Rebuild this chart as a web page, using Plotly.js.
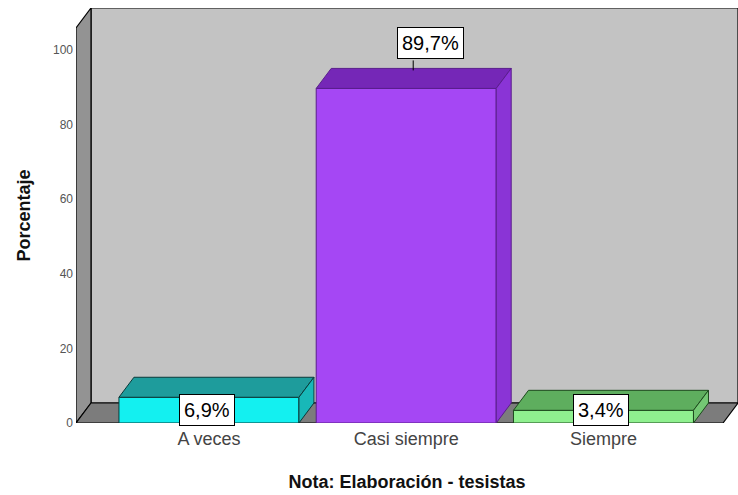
<!DOCTYPE html>
<html>
<head>
<meta charset="utf-8">
<script src="https://cdn.plot.ly/plotly-3.0.1.min.js"></script>
<style>html,body{margin:0;padding:0;background:#fff;}#chart{width:738px;height:495px;}</style>
</head>
<body>
<div id="chart"></div>
<script>
// ---- data ----
const categories = ["A veces", "Casi siempre", "Siempre"];
const percentages = [6.9, 89.7, 3.4];
const barLabels = ["6,9%", "89,7%", "3,4%"];
const yTickVals = [0, 20, 40, 60, 80, 100];
const yTickText = ["0", "20", "40", "60", "80", "100"];

// ---- styles ----
const frontColors = ["#13f0f0", "#a547f4", "#8ff08f"];
const topColors = ["#1e9c9c", "#7527b7", "#5eae5e"];
const sideColors = ["#18b8b8", "#8a34d6", "#74c874"];
const edgeColors = ["#0a3a3a", "#5a1e8c", "#1d4a1d"];

const xRange = [-0.674, 2.682];
const yRange = [0, 111.26];
const plotW = 662, plotH = 415;
const pxX = plotW / (xRange[1] - xRange[0]);
const pxY = plotH / (yRange[1] - yRange[0]);
const DX = 15 / pxX;   // depth offset in x units
const DY = 20 / pxY;   // depth offset in y units
const barW = 180 / pxX;

const xIdx = categories.map((c, i) => i);

const shapes = [];
const L = xRange[0], R = xRange[1], T = yRange[1];
// back wall
shapes.push({type: 'path', layer: 'below', xref: 'x', yref: 'y',
  path: `M${L + DX},${DY} L${R},${DY} L${R},${T} L${L + DX},${T} Z`,
  fillcolor: '#c3c3c3', line: {color: '#000', width: 1.2}});
// left wall
shapes.push({type: 'path', layer: 'below', xref: 'x', yref: 'y',
  path: `M${L},0 L${L + DX},${DY} L${L + DX},${T} L${L},${T - DY} Z`,
  fillcolor: '#939393', line: {color: '#000', width: 1.2}});
// floor
shapes.push({type: 'path', layer: 'below', xref: 'x', yref: 'y',
  path: `M${L},0 L${L + DX},${DY} L${R},${DY} L${R - DX},0 Z`,
  fillcolor: '#7c7c7c', line: {color: '#000', width: 1.2}});

// bar tops and sides
xIdx.forEach((xi, i) => {
  const v = percentages[i];
  const x0 = xi - barW / 2, x1 = xi + barW / 2;
  shapes.push({type: 'path', layer: 'above', xref: 'x', yref: 'y',
    path: `M${x0},${v} L${x0 + DX},${v + DY} L${x1 + DX},${v + DY} L${x1},${v} Z`,
    fillcolor: topColors[i], line: {color: edgeColors[i], width: 1}});
  shapes.push({type: 'path', layer: 'above', xref: 'x', yref: 'y',
    path: `M${x1},0 L${x1 + DX},${DY} L${x1 + DX},${v + DY} L${x1},${v} Z`,
    fillcolor: sideColors[i], line: {color: edgeColors[i], width: 1}});
});

const labelFont = {family: 'Liberation Sans, Arial, sans-serif', size: 20, color: '#000'};
const annotations = [];
xIdx.forEach((xi, i) => {
  const v = percentages[i];
  if (v > 20) {
    annotations.push({x: xi, y: v, xref: 'x', yref: 'y', text: barLabels[i],
      showarrow: false, xshift: 24, yshift: 45, font: labelFont,
      bgcolor: '#fff', bordercolor: '#000', borderwidth: 1, borderpad: 4});
    // connector from label to bar top
    const cx = xi + 7 / pxX;
    shapes.push({type: 'line', layer: 'above', xref: 'x', yref: 'y',
      x0: cx, x1: cx, y0: v + 18 / pxY, y1: v + 28 / pxY,
      line: {color: '#000', width: 1}});
  } else {
    annotations.push({x: xi, y: 0, xref: 'x', yref: 'y', text: barLabels[i],
      showarrow: false, yanchor: 'bottom', xshift: -2, yshift: -3, font: labelFont,
      bgcolor: '#fff', bordercolor: '#000', borderwidth: 1, borderpad: 4});
  }
});

const trace = {
  type: 'bar', x: xIdx, y: percentages, width: barW,
  marker: {color: frontColors, line: {color: edgeColors, width: 1}},
  hoverinfo: 'skip'
};

const layout = {
  width: 738, height: 495,
  margin: {l: 76, r: 0, t: 8, b: 72, pad: 0},
  paper_bgcolor: '#fff', plot_bgcolor: '#fff',
  showlegend: false,
  font: {family: 'Liberation Sans, Arial, sans-serif'},
  xaxis: {range: xRange, tickvals: xIdx, ticktext: categories, showgrid: false,
    zeroline: false, showline: false, ticks: '', ticklabelstandoff: 3,
    tickfont: {size: 18, color: '#444'},
    title: {text: '<b>Nota: Elaboración - tesistas</b>', standoff: 27,
      font: {size: 18, color: '#111'}}},
  yaxis: {range: yRange, tickvals: yTickVals, ticktext: yTickText, showgrid: false,
    zeroline: false, showline: false, ticks: '', ticklabelstandoff: 2,
    tickfont: {size: 12, color: '#555'},
    title: {text: '<b>Porcentaje</b>', standoff: 17, font: {size: 18, color: '#111'}}},
  shapes: shapes,
  annotations: annotations,
  bargap: 0
};

Plotly.newPlot('chart', [trace], layout, {displayModeBar: false, staticPlot: true});
</script>
</body>
</html>
